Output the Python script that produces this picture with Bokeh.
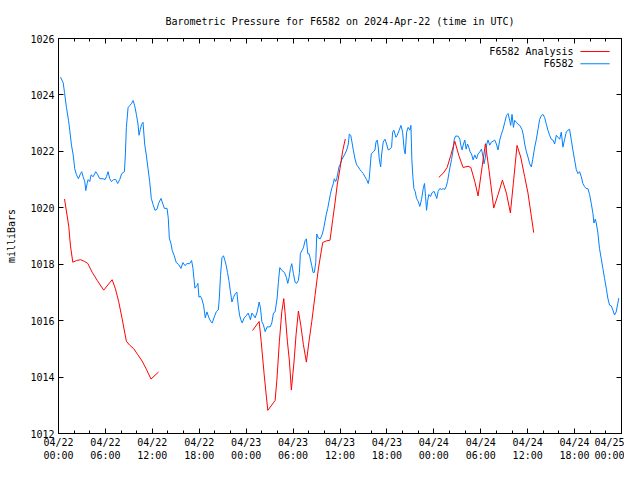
from bokeh.plotting import figure
from bokeh.models import Range1d, FixedTicker, LinearAxis, Label
from bokeh.embed import file_html
from bokeh.resources import INLINE

# ---------------- data (hours since 2024-04-22 00:00 UTC, millibars) ----------------
station_hours = [
    0.26, 0.60, 0.77, 1.02, 1.28, 1.44, 1.66, 1.88, 2.08, 2.30,
    2.55, 2.81, 2.97, 3.15, 3.36, 3.49, 3.66, 3.79, 4.00, 4.17,
    4.43, 4.76, 5.02, 5.27, 5.71, 5.96, 6.13, 6.34, 6.55, 6.77,
    7.06, 7.32, 7.57, 7.83, 8.08, 8.43, 8.55, 8.68, 8.90, 9.10,
    9.32, 9.54, 9.74, 9.96, 10.17, 10.30, 10.47, 10.63, 10.81, 11.02,
    11.23, 11.45, 11.66, 11.87,
    12.09, 12.34, 12.60, 12.80, 13.11, 13.37, 13.53, 13.88, 14.04, 14.17,
    14.39, 14.55, 14.81, 15.06, 15.36, 15.66, 15.92, 16.17, 16.43, 16.76,
    17.02, 17.20, 17.32, 17.45, 17.71, 17.83, 17.96, 18.13, 18.29, 18.55,
    18.77, 18.98, 19.24, 19.49, 19.66, 19.92, 20.17, 20.43, 20.55, 20.72,
    20.90, 21.10, 21.28, 21.45, 21.61, 21.79, 21.96, 22.18, 22.38, 22.64,
    22.81, 22.98, 23.15, 23.32, 23.49, 23.75, 24.00, 24.26,
    24.55, 24.73, 24.93, 25.15, 25.41, 25.66, 25.83, 26.01, 26.21, 26.43,
    26.68, 27.07, 27.28, 27.49, 27.70, 27.96, 28.12, 28.30, 28.56, 28.89,
    29.15, 29.32, 29.49, 29.66, 29.83, 30.04, 30.26, 30.47, 30.68, 30.81,
    30.93, 31.11, 31.32, 31.53, 31.70, 31.88, 32.04, 32.17, 32.39, 32.55,
    32.72, 32.90, 33.03, 33.23, 33.49, 33.74, 33.92, 34.09, 34.25, 34.43,
    34.60, 34.76, 34.94, 35.15, 35.27, 35.45, 35.58, 35.71, 35.87,
    36.00, 36.22, 36.42, 36.64, 36.86, 37.06, 37.19, 37.37, 37.53, 37.70,
    37.92, 38.13, 38.34, 38.55, 38.77, 38.98, 39.19, 39.41, 39.61, 39.74,
    39.83, 40.00, 40.25, 40.47, 40.60, 40.76, 40.89, 41.02, 41.20, 41.33,
    41.53, 41.75, 41.96, 42.17, 42.38, 42.60, 42.73, 42.89, 43.15, 43.32,
    43.57, 43.79, 44.01, 44.21, 44.34, 44.52, 44.72, 44.94, 45.07, 45.19,
    45.32, 45.45, 45.61, 45.79, 46.00, 46.21, 46.43, 46.64, 46.81, 46.94,
    47.07, 47.20, 47.36, 47.58, 47.78, 48.04,
    48.38, 48.55, 48.77, 48.99, 49.19, 49.41, 49.57, 49.75, 49.92, 50.08,
    50.26, 50.47, 50.59, 50.77, 51.10, 51.32, 51.45, 51.61, 51.79, 51.96,
    52.13, 52.31, 52.47, 52.64, 52.82, 53.02, 53.24, 53.46, 53.66, 53.88,
    54.09, 54.30, 54.42, 54.60, 54.77, 54.93, 55.15, 55.37, 55.57, 55.79,
    56.00, 56.21, 56.43, 56.64, 56.85, 57.07, 57.29, 57.49, 57.70, 57.83,
    58.00, 58.18, 58.34, 58.56, 58.76, 58.98, 59.27, 59.45, 59.62, 59.84,
    60.04, 60.26, 60.47, 60.64,
    60.90, 61.11, 61.32, 61.53, 61.75, 61.96, 62.17, 62.39, 62.59, 62.81,
    63.02, 63.23, 63.45, 63.66, 63.87, 64.09, 64.30, 64.51, 64.73, 64.94,
    65.15, 65.36, 65.58, 65.78, 66.00, 66.22, 66.43, 66.64, 66.86, 67.06,
    67.28, 67.49, 67.70, 67.92, 68.13, 68.34, 68.47, 68.65, 68.77, 68.98,
    69.19, 69.41, 69.62, 69.83, 70.05, 70.25, 70.47, 70.69, 70.89, 71.11,
    71.32, 71.53, 71.66,
]
station_pressure = [
    1024.63, 1024.43, 1024.08, 1023.55, 1023.10, 1022.75, 1022.22, 1021.87, 1021.38, 1021.17,
    1021.03, 1021.21, 1021.28, 1021.10, 1020.93, 1020.61, 1020.86, 1021.00, 1020.93, 1021.17,
    1021.10, 1021.28, 1021.17, 1021.03, 1021.03, 1021.00, 1021.10, 1021.28, 1021.03, 1020.93,
    1021.00, 1021.00, 1020.86, 1021.00, 1021.21, 1021.28, 1021.87, 1022.85, 1023.55, 1023.62,
    1023.69, 1023.80, 1023.62, 1023.31, 1022.96, 1022.57, 1022.78, 1022.96, 1023.03, 1022.26,
    1021.87, 1021.38, 1020.93, 1020.33,
    1020.12, 1019.91, 1019.95, 1020.16, 1020.33, 1020.12, 1019.98, 1019.98, 1019.63, 1018.93,
    1018.72, 1018.48, 1018.30, 1018.06, 1017.99, 1017.85, 1018.06, 1017.95, 1018.02, 1018.02,
    1018.13, 1017.85, 1017.50, 1017.15, 1017.25, 1017.32, 1016.83, 1016.87, 1016.80, 1016.55,
    1016.10, 1016.31, 1016.10, 1015.96, 1015.92, 1016.13, 1016.31, 1016.38, 1016.73, 1017.60,
    1018.23, 1018.30, 1018.13, 1017.95, 1017.71, 1017.43, 1017.08, 1016.66, 1016.83, 1016.97,
    1017.01, 1016.55, 1016.20, 1016.03, 1015.92, 1016.10, 1016.17, 1016.27,
    1016.03, 1016.27, 1016.20, 1016.10, 1016.31, 1016.66, 1016.45, 1015.96, 1015.85, 1015.61,
    1015.78, 1015.78, 1015.92, 1016.27, 1016.31, 1016.80, 1017.36, 1017.88, 1017.78, 1017.71,
    1017.53, 1017.32, 1017.53, 1017.85, 1018.02, 1017.67, 1017.36, 1017.32, 1017.43, 1017.71,
    1018.37, 1018.48, 1018.58, 1018.83, 1018.90, 1018.37, 1018.37, 1018.23, 1017.95, 1017.71,
    1017.71, 1018.06, 1019.07, 1018.93, 1018.90, 1019.07, 1019.28, 1019.53, 1019.77, 1019.98,
    1020.23, 1020.47, 1020.68, 1020.86, 1021.03, 1020.93, 1021.03, 1021.21, 1021.45,
    1021.52, 1021.70, 1021.80, 1021.91, 1022.05, 1022.26, 1022.61, 1022.57, 1022.33, 1022.05,
    1021.73, 1021.52, 1021.45, 1021.35, 1021.28, 1021.21, 1021.10, 1021.00, 1020.86, 1021.03,
    1021.35, 1021.91, 1021.98, 1022.05, 1022.33, 1022.40, 1022.15, 1021.73, 1021.45, 1021.91,
    1022.33, 1022.43, 1022.26, 1022.05, 1022.08, 1022.15, 1022.68, 1022.75, 1022.50, 1022.57,
    1022.75, 1022.92, 1022.68, 1022.05, 1021.91, 1022.68, 1022.85, 1022.75, 1022.92, 1021.70,
    1021.10, 1020.68, 1020.58, 1020.33, 1020.23, 1020.05, 1020.30, 1020.68, 1020.86, 1020.40,
    1019.91, 1020.23, 1020.47, 1020.40, 1020.54, 1020.58,
    1020.33, 1020.58, 1020.68, 1020.65, 1020.68, 1020.65, 1020.75, 1020.93, 1021.21, 1021.45,
    1021.70, 1022.05, 1022.40, 1022.54, 1022.54, 1022.43, 1022.22, 1022.05, 1022.26, 1022.40,
    1022.08, 1022.26, 1022.15, 1021.98, 1021.91, 1021.70, 1021.87, 1021.73, 1021.91, 1021.98,
    1022.08, 1021.80, 1021.56, 1021.80, 1022.26, 1022.40, 1022.22, 1022.33, 1022.36, 1022.40,
    1022.26, 1022.05, 1022.40, 1022.61, 1022.78, 1023.03, 1023.27, 1023.34, 1023.10, 1022.92,
    1023.31, 1022.85, 1023.10, 1023.03, 1022.96, 1022.92, 1022.78, 1022.57, 1022.26, 1021.98,
    1021.80, 1021.56, 1021.45, 1021.70,
    1022.15, 1022.43, 1022.78, 1023.13, 1023.27, 1023.31, 1023.20, 1022.96, 1022.75, 1022.57,
    1022.43, 1022.40, 1022.26, 1022.57, 1022.50, 1022.43, 1022.68, 1022.15, 1022.43, 1022.68,
    1022.75, 1022.78, 1022.40, 1022.05, 1021.70, 1021.35, 1021.21, 1021.28, 1021.10, 1020.86,
    1020.75, 1020.68, 1020.68, 1020.47, 1020.16, 1019.81, 1019.46, 1019.60, 1019.46, 1019.11,
    1018.55, 1018.20, 1017.85, 1017.50, 1017.15, 1016.80, 1016.55, 1016.52, 1016.38, 1016.20,
    1016.31, 1016.62, 1016.80,
]

analysis_hours_1 = [0.77, 1.31, 1.53, 1.83, 2.30, 2.81, 3.32, 3.74, 4.30, 4.94,
                    5.78, 6.86, 7.28, 7.70, 8.13, 8.68, 9.10, 9.61, 10.12, 10.69,
                    11.23, 11.83, 12.80]
analysis_pressure_1 = [1020.31, 1019.35, 1018.65, 1018.07, 1018.13, 1018.16, 1018.10, 1018.03, 1017.72, 1017.43,
                       1017.08, 1017.45, 1017.13, 1016.67, 1016.08, 1015.27, 1015.13, 1015.01, 1014.80, 1014.57,
                       1014.28, 1013.93, 1014.18]
analysis_hours_2 = [24.81, 25.66, 25.92, 26.30, 26.55, 26.77, 27.70, 27.92, 28.25, 28.56,
                    28.81, 29.02, 29.27, 29.53, 29.78, 30.13, 30.38, 30.68, 30.98, 31.32,
                    31.70, 32.01, 32.39, 32.81, 33.23, 33.79, 34.30, 34.72, 35.07, 35.36,
                    35.66, 36.00, 36.35, 36.68]
analysis_pressure_2 = [1015.65, 1015.97, 1015.27, 1014.10, 1013.40, 1012.82, 1013.17, 1013.87, 1015.27, 1016.32,
                       1016.78, 1016.14, 1015.27, 1014.57, 1013.54, 1014.57, 1015.50, 1016.34, 1015.85, 1015.15,
                       1014.53, 1015.21, 1015.97, 1016.90, 1017.83, 1018.77, 1018.83, 1018.85, 1019.58, 1020.17,
                       1020.84, 1021.39, 1022.03, 1022.44]
analysis_hours_3 = [48.64, 49.19, 49.70, 50.17, 50.68, 51.19, 51.74, 52.38, 52.73, 53.24,
                    53.66, 54.17, 54.60, 55.06, 55.66, 56.21, 56.77, 57.28, 57.79, 58.17,
                    58.64, 59.11, 59.62, 60.04, 60.47, 60.77]
analysis_pressure_3 = [1021.08, 1021.22, 1021.43, 1021.86, 1022.36, 1021.86, 1021.43, 1021.47, 1021.43, 1020.93,
                       1020.42, 1021.45, 1022.27, 1021.33, 1019.99, 1020.46, 1020.98, 1020.52, 1019.82, 1020.87,
                       1022.21, 1021.80, 1021.10, 1020.52, 1019.70, 1019.12]

x_tick_hours = [0, 6, 12, 18, 24, 30, 36, 42, 48, 54, 60, 66, 72]
x_tick_labels = ["04/22\n00:00", "04/22\n06:00", "04/22\n12:00", "04/22\n18:00",
                 "04/23\n00:00", "04/23\n06:00", "04/23\n12:00", "04/23\n18:00",
                 "04/24\n00:00", "04/24\n06:00", "04/24\n12:00", "04/24\n18:00",
                 "04/25\n00:00"]
x_minor_hours = [h for h in range(0, 73, 2) if h % 6 != 0]
y_ticks = [1012, 1014, 1016, 1018, 1020, 1022, 1024, 1026]

title_text = "Barometric Pressure for F6582 on 2024-Apr-22 (time in UTC)"
series_names = ["F6582 Analysis", "F6582"]
series_colors = ["#ff0000", "#0080ff"]

# ---------------- figure ----------------
FONT = "DejaVu Sans Mono"
FS = "10px"
X0, X1 = 0, 72
Y0, Y1 = 1012, 1026

p = figure(width=624, height=464, output_backend="svg", toolbar_location=None,
           x_range=Range1d(X0, X1), y_range=Range1d(Y0, Y1),
           min_border_left=58, min_border_right=3, min_border_top=38, min_border_bottom=30,
           title=title_text)
p.background_fill_color = "white"
p.border_fill_color = "white"
p.outline_line_color = "black"
p.outline_line_width = 1
p.xgrid.visible = False
p.ygrid.visible = False

p.title.text_font = FONT
p.title.text_font_size = FS
p.title.text_font_style = "normal"
p.title.align = "center"
p.title.text_color = "black"
p.title.standoff = 23

xt = FixedTicker(ticks=x_tick_hours, minor_ticks=x_minor_hours)
yt = FixedTicker(ticks=y_ticks, minor_ticks=[])

def style_axis(ax, show_labels):
    ax.axis_line_color = "black"
    ax.major_tick_line_color = "black"
    ax.minor_tick_line_color = "black"
    ax.major_tick_in = 5
    ax.major_tick_out = 0
    ax.minor_tick_in = 3
    ax.minor_tick_out = 0
    ax.major_label_text_font = FONT
    ax.major_label_text_font_size = FS if show_labels else "0px"
    ax.major_label_text_color = "black"
    ax.axis_label_text_font = FONT
    ax.axis_label_text_font_size = FS
    ax.axis_label_text_font_style = "normal"
    ax.axis_label_text_color = "black"

xa = p.xaxis[0]
xa.ticker = xt
xa.major_label_overrides = {h: lab for h, lab in zip(x_tick_hours, x_tick_labels)}
style_axis(xa, True)
xa.major_label_standoff = 3
xa.major_label_text_line_height = 1.25

ya = p.yaxis[0]
ya.ticker = yt
style_axis(ya, True)
ya.major_label_standoff = 4
ya.axis_label = "milliBars"
ya.axis_label_standoff = 10

top = LinearAxis(ticker=xt, major_label_standoff=0)
style_axis(top, False)
top.major_label_overrides = {h: "" for h in x_tick_hours}
p.add_layout(top, "above")

right = LinearAxis(ticker=yt, major_label_standoff=0)
style_axis(right, False)
right.major_label_overrides = {v: "" for v in y_ticks}
p.add_layout(right, "right")

# ---------------- data lines ----------------
p.line(station_hours, station_pressure, line_color=series_colors[1], line_width=1)
for hs, ps in ((analysis_hours_1, analysis_pressure_1),
               (analysis_hours_2, analysis_pressure_2),
               (analysis_hours_3, analysis_pressure_3)):
    p.line(hs, ps, line_color=series_colors[0], line_width=1)

# ---------------- key (gnuplot style: text then sample) ----------------
xs = X1 - X0
ys = Y1 - Y0
key_text_x = X1 - 0.085 * xs
key_line_x0 = X1 - 0.073 * xs
key_line_x1 = X1 - 0.021 * xs
key_rows_y = [Y1 - 0.033 * ys, Y1 - 0.064 * ys]
for name, color, ry in zip(series_names, series_colors, key_rows_y):
    p.add_layout(Label(x=key_text_x, y=ry, text=name, text_align="right",
                       text_baseline="middle", text_font=FONT, text_font_size=FS,
                       text_color="black"))
    p.segment(x0=[key_line_x0], y0=[ry], x1=[key_line_x1], y1=[ry],
              line_color=color, line_width=1)

open("out.html", "w").write(file_html(p, INLINE))
